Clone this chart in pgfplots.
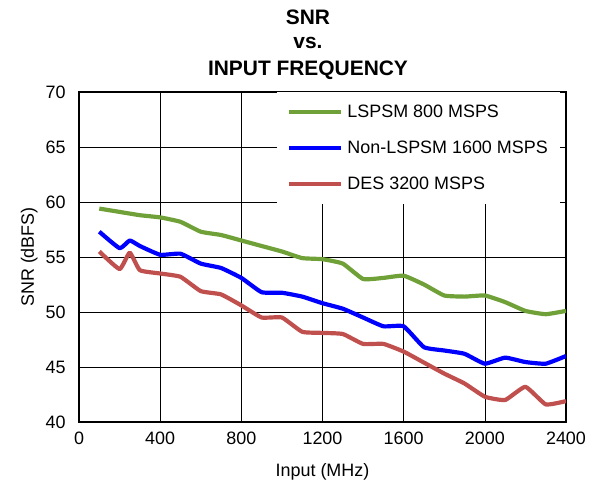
\documentclass[border=0pt]{standalone}
\usepackage{fontspec}
\setmainfont{Liberation Sans}
\usepackage{pgfplots}
\pgfplotsset{compat=1.18}
\definecolor{cgreen}{RGB}{112,160,56}
\definecolor{cblue}{RGB}{0,0,255}
\definecolor{cred}{RGB}{192,80,77}
\begin{document}
\begin{tikzpicture}
\begin{axis}[
  name=ax,
  scale only axis,
  width=487bp, height=330bp,
  xmin=0, xmax=2400, ymin=40, ymax=70,
  xtick={0,400,...,2400}, ytick={40,45,...,70},
  grid=major,
  major grid style={black, line width=0.6pt},
  axis line style={black, line width=1.4pt},
  major tick length=0pt,
  /pgf/number format/assume math mode=true,
  /pgf/number format/1000 sep={},
  ticklabel style={font=\fontsize{18}{21}\selectfont},
  xticklabel style={yshift=-6bp},
  yticklabel style={xshift=-10bp},
  xlabel={Input (MHz)},
  ylabel={SNR (dBFS)},
  label style={font=\fontsize{18}{21}\selectfont},
  xlabel style={yshift=-12bp},
  ylabel style={yshift=1bp},
  legend style={at={(1,1)}, anchor=north east, draw=none, fill=white,
    font=\fontsize{18}{21}\selectfont, inner xsep=10bp, inner ysep=11bp,
    xshift=-6bp, row sep=18bp, cells={anchor=west},
    /tikz/every odd column/.append style={column sep=2bp}},
  legend image code/.code={\draw[#1] (0bp,0bp) -- (52bp,0bp);},
  every axis plot/.append style={line width=4.2pt, smooth, tension=0.25, line join=round},
]
\addplot[cgreen] coordinates {
(100,59.4) (200,59.1) (300,58.8) (400,58.6) (500,58.2) (600,57.3) (700,57.0)
(800,56.5) (900,56.0) (1000,55.5) (1100,54.9) (1200,54.8) (1300,54.4) (1400,53.0)
(1500,53.1) (1600,53.3) (1700,52.5) (1800,51.5) (1900,51.4) (2000,51.5)
(2100,50.9) (2200,50.1) (2300,49.8) (2400,50.1)};
\addlegendentry{LSPSM 800 MSPS}
\addplot[cblue] coordinates {
(100,57.3) (200,55.8) (250,56.5) (300,56.0) (400,55.2) (500,55.3) (600,54.4)
(700,54.0) (800,53.1) (900,51.8) (1000,51.75) (1100,51.4) (1200,50.8) (1300,50.3)
(1400,49.5) (1500,48.7) (1600,48.7) (1700,46.8) (1800,46.5) (1900,46.2)
(2000,45.3) (2100,45.85) (2200,45.45) (2300,45.3) (2400,46.0)};
\addlegendentry{Non-LSPSM 1600 MSPS}
\addplot[cred] coordinates {
(100,55.5) (200,53.9) (250,55.4) (300,53.8) (400,53.5) (500,53.2) (600,51.9)
(700,51.6) (800,50.6) (900,49.5) (1000,49.5) (1100,48.2) (1200,48.1) (1300,48.0)
(1400,47.1) (1500,47.1) (1600,46.4) (1700,45.4) (1800,44.4) (1900,43.5)
(2000,42.3) (2100,42.0) (2200,43.2) (2300,41.6) (2400,41.9)};
\addlegendentry{DES 3200 MSPS}
\end{axis}
\begin{scope}[font=\fontsize{21}{24}\selectfont\bfseries]
\node at ([xshift=229bp,yshift=405bp]ax.south west) {SNR};
\node at ([xshift=229bp,yshift=379bp]ax.south west) {vs.};
\node at ([xshift=229bp,yshift=352bp]ax.south west) {INPUT FREQUENCY};
\end{scope}
\path (ax.south west) ++(-79bp,-64bp) rectangle ++(597bp,486bp);
\end{tikzpicture}
\end{document}
